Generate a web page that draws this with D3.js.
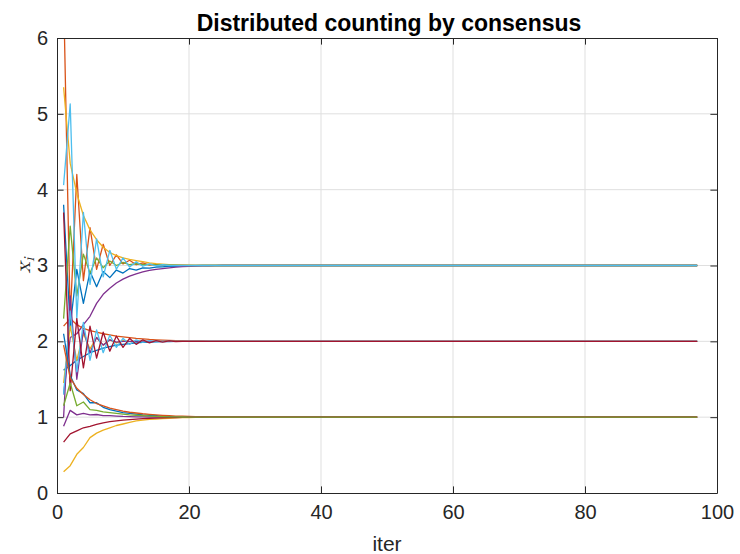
<!DOCTYPE html>
<html>
<head>
<meta charset="utf-8">
<script src="https://cdn.jsdelivr.net/npm/d3@7"></script>
<style>
  body { margin: 0; background: #fff; }
  svg { display: block; font-family: "Liberation Sans", Arial, sans-serif; }
</style>
</head>
<body>
<div id="chart"></div>
<script>
// iterations run 1..97, every node ends on its plateau value
const lastIter = 97;
const xTicks = [0, 20, 40, 60, 80, 100];
const yTicks = [0, 1, 2, 3, 4, 5, 6];

// early values (later points stay on the last value)
// group converging to 3
const g3Blue   = [3.8, 2.2, 2.95, 2.5, 2.92, 2.72, 2.92, 2.84, 2.94, 2.9, 2.96, 2.94, 2.97, 2.965, 2.98, 2.982, 2.99, 2.99, 2.995, 2.997, 2.998, 3];
const g3Orange = [6.6, 2.3, 4.2, 2.8, 3.5, 2.95, 3.28, 3.0, 3.14, 3.02, 3.07, 3.01, 3.035, 3.005, 3.015, 3.003, 3.007, 3.002, 3.003, 3];
const g3Yellow = [5.35, 4.35, 3.95, 3.66, 3.47, 3.34, 3.24, 3.17, 3.13, 3.1, 3.08, 3.065, 3.05, 3.035, 3.025, 3.018, 3.012, 3.008, 3.005, 3.003, 3.002, 3.001, 3];
const g3Purple = [1.3, 2.05, 2.1, 2.22, 2.33, 2.5, 2.62, 2.7, 2.77, 2.82, 2.86, 2.89, 2.915, 2.935, 2.95, 2.96, 2.97, 2.978, 2.984, 2.989, 2.992, 2.995, 2.997, 2.998, 3];
const g3Green  = [2.3, 3.52, 2.6, 3.15, 2.9, 3.1, 2.97, 3.06, 3.0, 3.04, 3.01, 3.025, 3.01, 3.015, 3.008, 3.01, 3.005, 3.003, 3.002, 3];
const g3Cyan   = [4.06, 5.13, 2.3, 3.7, 2.75, 3.35, 2.85, 3.2, 2.95, 3.1, 2.98, 3.05, 2.99, 3.02, 2.995, 3.01, 3.0];
// group converging to 2
const g2Blue   = [1.62, 1.68, 1.75, 1.8, 1.85, 1.88, 1.91, 1.93, 1.95, 1.96, 1.97, 1.98, 1.985, 1.99, 1.993, 1.995, 1.997, 2];
const g2Orange = [2.2, 2.3, 2.22, 2.17, 2.14, 2.12, 2.1, 2.085, 2.07, 2.06, 2.05, 2.04, 2.032, 2.025, 2.02, 2.015, 2.011, 2.008, 2.006, 2.004, 2.003, 2.002, 2];
const g2Yellow = [1.45, 2.2, 1.75, 2.1, 1.9, 2.05, 1.95, 2.02, 1.98, 2.01, 1.995, 2];
const g2Purple = [1.0, 2.6, 1.5, 2.15, 1.85, 2.05, 1.95, 2.02, 1.99, 2];
const g2Cyan   = [1.3, 2.4, 1.6, 2.25, 1.75, 2.15, 1.85, 2.08, 1.92, 2.04, 1.96, 2.02, 1.985, 2.01, 1.995, 2];
const g2Red    = [3.7, 1.35, 2.3, 1.65, 2.2, 1.78, 2.12, 1.87, 2.07, 1.92, 2.04, 1.96, 2.02, 1.98, 2.01, 1.99, 2.005, 1.997, 2];
// group converging to 1
const g1Blue   = [2.1, 1.55, 1.36, 1.31, 1.19, 1.19, 1.13, 1.1, 1.08, 1.06, 1.05, 1.04, 1.03, 1.025, 1.02, 1.015, 1.01, 1.008, 1.005, 1.003, 1.002, 1];
const g1Orange = [1.95, 1.52, 1.38, 1.3, 1.23, 1.18, 1.15, 1.12, 1.1, 1.08, 1.065, 1.055, 1.045, 1.037, 1.03, 1.024, 1.019, 1.015, 1.012, 1.009, 1.007, 1.005, 1.004, 1.003, 1.002, 1.001, 1];
const g1Yellow = [0.28, 0.36, 0.51, 0.6, 0.73, 0.79, 0.83, 0.86, 0.89, 0.91, 0.93, 0.95, 0.96, 0.97, 0.975, 0.98, 0.985, 0.99, 0.993, 0.995, 0.997, 0.998, 1];
const g1Purple = [0.88, 1.09, 1.03, 1.05, 1.03, 1.035, 1.02, 1.02, 1.015, 1.01, 1.008, 1.005, 1.003, 1.002, 1];
const g1Red    = [0.67, 0.78, 0.82, 0.86, 0.88, 0.905, 0.925, 0.94, 0.95, 0.96, 0.968, 0.975, 0.98, 0.985, 0.988, 0.991, 0.993, 0.995, 0.996, 0.997, 0.998, 0.999, 1];
const g1Green  = [1.15, 1.45, 1.15, 1.2, 1.1, 1.09, 1.07, 1.06, 1.05, 1.04, 1.03, 1.025, 1.02, 1.015, 1.01, 1.007, 1.005, 1.003, 1.002, 1];

// matlab default colour order
const C = {
  blue: "#0072BD", orange: "#D95319", yellow: "#EDB120", purple: "#7E2F8E",
  green: "#77AC30", cyan: "#4DBEEE", red: "#A2142F"
};

// draw order (last on top)
const series = [
  [g3Blue, C.blue], [g3Orange, C.orange], [g3Yellow, C.yellow], [g3Purple, C.purple], [g3Green, C.green], [g3Cyan, C.cyan],
  [g2Blue, C.blue], [g2Orange, C.orange], [g2Yellow, C.yellow], [g2Purple, C.purple], [g2Cyan, C.cyan], [g2Red, C.red],
  [g1Blue, C.blue], [g1Orange, C.orange], [g1Yellow, C.yellow], [g1Purple, C.purple], [g1Red, C.red], [g1Green, C.green]
];

const conf = { width: 740, height: 554, left: 57, right: 717, top: 38, bottom: 493 };

const svg = d3.select("#chart").append("svg")
    .attr("width", conf.width)
    .attr("height", conf.height);

const x = d3.scaleLinear().domain([0, 100]).range([conf.left, conf.right]);
const y = d3.scaleLinear().domain([0, 6]).range([conf.bottom, conf.top]);

// grid
const grid = svg.append("g").attr("stroke", "#dfdfdf").attr("stroke-width", 1);
grid.selectAll(".gx").data(xTicks.slice(1, -1)).enter().append("line")
    .attr("x1", d => x(d)).attr("x2", d => x(d))
    .attr("y1", conf.top).attr("y2", conf.bottom);
grid.selectAll(".gy").data(yTicks.slice(1, -1)).enter().append("line")
    .attr("y1", d => y(d)).attr("y2", d => y(d))
    .attr("x1", conf.left).attr("x2", conf.right);

// lines, clipped to the axes box
svg.append("clipPath").attr("id", "clip")
  .append("rect")
    .attr("x", conf.left).attr("y", conf.top)
    .attr("width", conf.right - conf.left).attr("height", conf.bottom - conf.top);

const line = d3.line()
    .x((d, i) => x(i + 1))
    .y(d => y(d));

const plot = svg.append("g").attr("clip-path", "url(#clip)");
series.forEach(([vals, color]) => {
    // hold the plateau value until the last iteration
    let pts = vals.slice();
    while (pts.length < lastIter) pts.push(vals[vals.length - 1]);
    plot.append("path")
        .attr("d", line(pts))
        .attr("fill", "none")
        .attr("stroke", color)
        .attr("stroke-width", 1.3)
        .attr("stroke-linejoin", "round");
});

// axes, matlab style: box on, ticks inside
const tickLen = 6.6;
const axisCol = "#262626";
const fmt = d3.format("d");

const bottom = d3.axisBottom(x).tickValues(xTicks).tickFormat(fmt).tickSizeInner(-tickLen).tickSizeOuter(0).tickPadding(12);
const topAx = d3.axisTop(x).tickValues(xTicks).tickSizeInner(-tickLen).tickSizeOuter(0).tickFormat("");
const left = d3.axisLeft(y).tickValues(yTicks).tickFormat(fmt).tickSizeInner(-tickLen).tickSizeOuter(0).tickPadding(9);
const rightAx = d3.axisRight(y).tickValues(yTicks).tickSizeInner(-tickLen).tickSizeOuter(0).tickFormat("");

function styleAxis(g) {
    g.select(".domain").attr("stroke", axisCol).attr("stroke-width", 1);
    g.selectAll(".tick line").attr("stroke", axisCol).attr("stroke-width", 1);
    g.selectAll(".tick text").attr("fill", axisCol)
        .style("font-size", "20px")
        .style("font-family", "'Liberation Sans', Arial, sans-serif");
}

svg.append("g").attr("transform", `translate(0,${conf.bottom})`).call(bottom).call(styleAxis);
svg.append("g").attr("transform", `translate(0,${conf.top})`).call(topAx).call(styleAxis);
svg.append("g").attr("transform", `translate(${conf.left},0)`).call(left).call(styleAxis);
svg.append("g").attr("transform", `translate(${conf.right},0)`).call(rightAx).call(styleAxis);

// title and labels
svg.append("text")
    .attr("x", (conf.left + conf.right) / 2 + 2)
    .attr("y", 31)
    .attr("text-anchor", "middle")
    .attr("font-weight", "bold")
    .style("font-size", "23px")
    .attr("fill", "#000")
    .text("Distributed counting by consensus");

svg.append("text")
    .attr("x", (conf.left + conf.right) / 2)
    .attr("y", 551)
    .attr("text-anchor", "middle")
    .style("font-size", "21px")
    .attr("fill", axisCol)
    .text("iter");

const yl = svg.append("text")
    .attr("transform", `translate(30,${(conf.top + conf.bottom) / 2}) rotate(-90)`)
    .attr("text-anchor", "middle")
    .style("font-family", "'Latin Modern Math', 'DejaVu Serif', serif")
    .style("font-style", "italic")
    .style("font-size", "22px")
    .attr("fill", axisCol);
yl.append("tspan").text("x");
yl.append("tspan").attr("dy", 4).style("font-size", "15px").text("i");
</script>
</body>
</html>
